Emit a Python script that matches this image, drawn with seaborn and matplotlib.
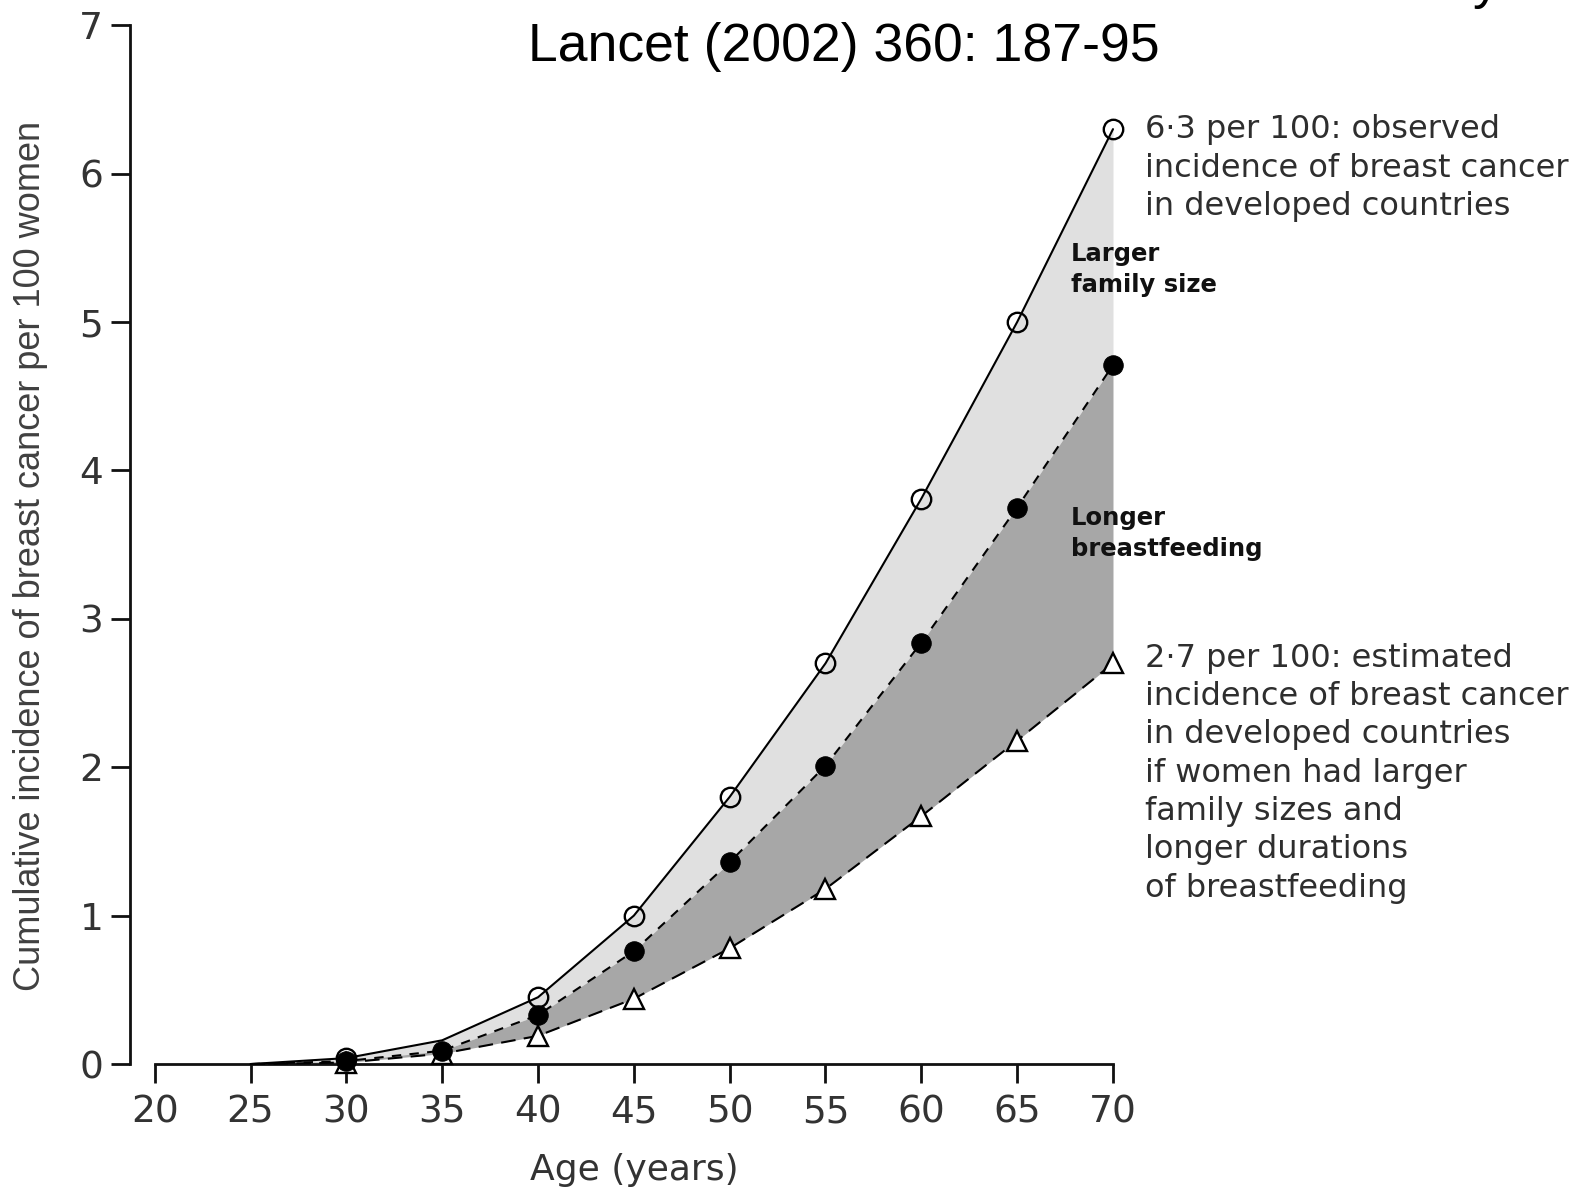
import matplotlib
matplotlib.use("Agg")
import matplotlib.pyplot as plt
import seaborn as sns

# Cumulative incidence of breast cancer per 100 women, by age
ages = [25, 30, 35, 40, 45, 50, 55, 60, 65, 70]
observed = [0.0, 0.04, 0.16, 0.45, 1.00, 1.80, 2.70, 3.81, 5.00, 6.30]
larger_family = [0.0, 0.02, 0.09, 0.33, 0.76, 1.36, 2.01, 2.84, 3.75, 4.71]
larger_family_and_bf = [0.0, 0.01, 0.07, 0.19, 0.44, 0.78, 1.18, 1.67, 2.18, 2.70]

x_ticks = [20, 25, 30, 35, 40, 45, 50, 55, 60, 65, 70]
y_ticks = [0, 1, 2, 3, 4, 5, 6, 7]

title = "Lancet (2002) 360: 187-95"
x_label = "Age (years)"
y_label = "Cumulative incidence of breast cancer per 100 women"
observed_note = ["6\u00b73 per 100: observed",
                 "incidence of breast cancer",
                 "in developed countries"]
estimated_note = ["2\u00b77 per 100: estimated",
                  "incidence of breast cancer",
                  "in developed countries",
                  "if women had larger",
                  "family sizes and",
                  "longer durations",
                  "of breastfeeding"]
family_label = ["Larger", "family size"]
bf_label = ["Longer", "breastfeeding"]

sns.set_style("ticks")
plt.rcParams["font.family"] = ["DejaVu Sans"]

fig = plt.figure(figsize=(15.85, 11.91), dpi=100)
ax = fig.add_axes([0.0976, 0.1066, 0.6046, 0.8722])

light = "#e0e0e0"
dark = "#a7a7a7"
ax.fill_between(ages, larger_family, observed, color=light, lw=0, zorder=1)
ax.fill_between(ages, larger_family_and_bf, larger_family, color=dark, lw=0, zorder=1)

# lower curve: long dashes with open triangles
sns.lineplot(x=ages, y=larger_family_and_bf, ax=ax, color="black", lw=1.5,
             linestyle=(0, (7, 4)), marker="^", markersize=14,
             markerfacecolor="white", markeredgecolor="black", markeredgewidth=1.7,
             markevery=list(range(1, len(ages))), clip_on=False, zorder=3)
# observed curve: solid with open circles
sns.lineplot(x=ages, y=observed, ax=ax, color="black", lw=1.5,
             marker="o", markersize=14, markerfacecolor="none",
             markeredgecolor="black", markeredgewidth=1.7,
             markevery=[1, 3, 4, 5, 6, 7, 8, 9], clip_on=False, zorder=4)
# middle curve: short dashes with filled dots
sns.lineplot(x=ages, y=larger_family, ax=ax, color="black", lw=1.5,
             linestyle=(0, (4.5, 4)), marker="o", markersize=14,
             markerfacecolor="black", markeredgecolor="black",
             markevery=list(range(1, len(ages))), clip_on=False, zorder=5)

ax.set_xlim(20, 70)
ax.set_ylim(0, 7)
ax.set_xticks(x_ticks)
ax.set_yticks(y_ticks)
for side in ("top", "right"):
    ax.spines[side].set_visible(False)
ax.spines["left"].set_position(("outward", 18))
for side in ("left", "bottom"):
    ax.spines[side].set_linewidth(2.0)
    ax.spines[side].set_color("#111111")
ax.tick_params(axis="both", direction="out", length=14, width=2.0,
               color="#111111", labelsize=27, labelcolor="#333333")
ax.tick_params(axis="x", pad=8)
ax.tick_params(axis="y", pad=5)
ax.set_facecolor("white")

ax.set_xlabel(x_label, fontsize=26, color="#333333", labelpad=16)
ax.set_ylabel(y_label, fontsize=26, color="#404040",
              family=["Liberation Sans"], va="center")
ax.yaxis.set_label_coords(-0.130, 0.489)

fig.text(0.5325, 0.9488, title, fontsize=38.5, ha="center", va="baseline",
         family=["Liberation Sans"], color="black")
fig.text(0.929, 1.002, "y", fontsize=38.5, ha="left", va="baseline",
         family=["Liberation Sans"], color="black")

for i, line in enumerate(observed_note):
    ax.annotate(line, xy=(71.66, observed[-1]), xytext=(0, -28 * i),
                textcoords="offset points", ha="left", va="center",
                fontsize=23, color="#2e2e2e", annotation_clip=False)
for i, line in enumerate(estimated_note):
    ax.annotate(line, xy=(71.66, larger_family_and_bf[-1] + 0.036), xytext=(0, -27.6 * i),
                textcoords="offset points", ha="left", va="center",
                fontsize=23, color="#2e2e2e", annotation_clip=False)
for i, line in enumerate(family_label):
    ax.annotate(line, xy=(67.8, 5.46), xytext=(0, -22.5 * i),
                textcoords="offset points", ha="left", va="center",
                fontsize=17.5, fontweight="bold", color="#111111",
                annotation_clip=False)
for i, line in enumerate(bf_label):
    ax.annotate(line, xy=(67.8, 3.68), xytext=(0, -22.5 * i),
                textcoords="offset points", ha="left", va="center",
                fontsize=17.5, fontweight="bold", color="#111111",
                annotation_clip=False)

fig.savefig("out.png", dpi=100, facecolor="white")
